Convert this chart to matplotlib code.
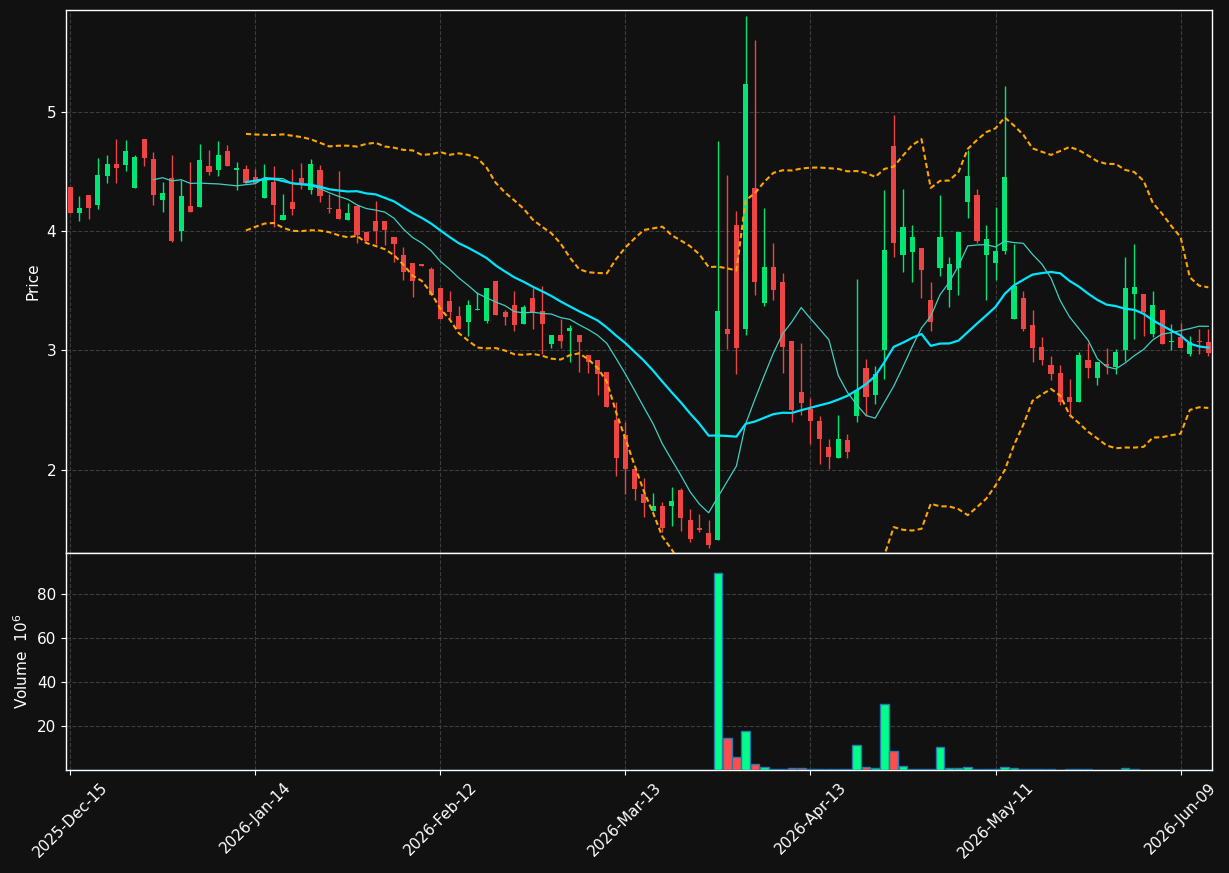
import numpy as np
import pandas as pd
import matplotlib
matplotlib.use("Agg")
import matplotlib.pyplot as plt

# daily OHLC (one entry per trading day)
opens = [4.37, 4.15, 4.30, 4.22, 4.46, 4.56, 4.55, 4.36, 4.77, 4.60,
         4.26, 4.44, 4.00, 4.21, 4.20, 4.54, 4.51, 4.67, 4.51, 4.52,
         4.45, 4.28, 4.41, 4.09, 4.24, 4.44, 4.34, 4.51, 4.19, 4.18,
         4.09, 4.21, 3.99, 4.08, 4.08, 3.95, 3.80, 3.73, 3.72, 3.68,
         3.52, 3.41, 3.29, 3.24, 3.34, 3.25, 3.58, 3.32, 3.38, 3.22,
         3.44, 3.33, 3.05, 3.13, 3.16, 3.13, 2.96, 2.92, 2.82, 2.42,
         2.29, 2.01, 1.80, 1.66, 1.70, 1.70, 1.83, 1.58, 1.51, 1.47,
         1.41, 3.18, 4.05, 3.18, 4.36, 3.40, 3.70, 3.57, 3.08, 2.65,
         2.51, 2.41, 2.19, 2.10, 2.25, 2.45, 2.85, 2.63, 3.00, 4.71,
         3.80, 3.82, 3.86, 3.42, 3.69, 3.51, 3.69, 4.24, 4.30, 3.80,
         3.73, 3.83, 3.26, 3.44, 3.21, 3.03, 2.88, 2.81, 2.61, 2.57,
         2.92, 2.77, 2.89, 2.86, 3.00, 3.47, 3.47, 3.14, 3.34, 3.07,
         3.11, 2.97, 3.08, 3.07]
highs = [4.37, 4.29, 4.30, 4.61, 4.64, 4.77, 4.76, 4.64, 4.77, 4.66,
         4.41, 4.64, 4.43, 4.58, 4.73, 4.68, 4.75, 4.72, 4.58, 4.55,
         4.52, 4.56, 4.54, 4.31, 4.52, 4.57, 4.60, 4.55, 4.31, 4.50,
         4.23, 4.21, 3.99, 4.25, 4.08, 3.95, 3.87, 3.73, 3.72, 3.70,
         3.52, 3.50, 3.37, 3.42, 3.49, 3.52, 3.58, 3.34, 3.50, 3.38,
         3.52, 3.54, 3.13, 3.26, 3.21, 3.13, 2.96, 2.92, 2.82, 2.57,
         2.40, 2.01, 1.93, 1.81, 1.73, 1.86, 1.85, 1.67, 1.63, 1.58,
         4.75, 4.47, 4.17, 5.80, 5.60, 4.19, 3.90, 3.65, 3.08, 3.06,
         2.60, 2.45, 2.26, 2.46, 2.30, 3.60, 2.93, 2.87, 4.34, 4.97,
         4.35, 4.05, 3.86, 3.57, 4.30, 3.78, 3.99, 4.68, 4.35, 4.05,
         4.20, 5.21, 3.89, 3.50, 3.34, 3.11, 2.95, 2.88, 2.76, 2.99,
         3.06, 2.90, 3.02, 3.01, 3.78, 3.89, 3.47, 3.50, 3.34, 3.22,
         3.23, 3.12, 3.18, 3.18]
lows = [4.15, 4.08, 4.10, 4.18, 4.40, 4.40, 4.50, 4.36, 4.54, 4.22,
        4.16, 3.91, 3.92, 4.16, 4.20, 4.47, 4.46, 4.54, 4.34, 4.40,
        4.40, 4.28, 4.03, 4.09, 4.13, 4.35, 4.31, 4.24, 4.15, 4.10,
        4.09, 3.90, 3.92, 3.89, 3.88, 3.74, 3.59, 3.45, 3.71, 3.46,
        3.26, 3.27, 3.18, 3.12, 3.34, 3.23, 3.30, 3.21, 3.16, 3.22,
        3.18, 2.97, 3.02, 3.02, 2.90, 2.82, 2.81, 2.63, 2.53, 1.95,
        1.80, 1.75, 1.61, 1.66, 1.48, 1.53, 1.49, 1.40, 1.48, 1.35,
        1.41, 3.01, 2.80, 3.13, 3.46, 3.37, 3.42, 2.81, 2.40, 2.46,
        2.22, 2.05, 2.01, 2.10, 2.10, 2.40, 2.45, 2.55, 2.76, 3.78,
        3.66, 3.57, 3.44, 3.16, 3.62, 3.36, 3.46, 4.11, 3.90, 3.42,
        3.59, 3.81, 3.26, 3.16, 2.90, 2.88, 2.75, 2.54, 2.44, 2.57,
        2.77, 2.71, 2.80, 2.80, 2.91, 3.10, 3.12, 3.11, 3.05, 3.00,
        3.02, 2.95, 2.97, 2.95]
closes = [4.15, 4.19, 4.19, 4.47, 4.56, 4.53, 4.67, 4.62, 4.61, 4.30,
          4.32, 3.92, 4.29, 4.16, 4.59, 4.49, 4.64, 4.54, 4.53, 4.40,
          4.40, 4.44, 4.22, 4.13, 4.18, 4.40, 4.56, 4.29, 4.18, 4.10,
          4.15, 3.97, 3.92, 4.00, 4.01, 3.89, 3.66, 3.58, 3.71, 3.46,
          3.26, 3.32, 3.18, 3.38, 3.34, 3.52, 3.30, 3.28, 3.21, 3.36,
          3.31, 3.22, 3.13, 3.08, 3.19, 3.07, 2.90, 2.80, 2.53, 2.10,
          2.01, 1.84, 1.72, 1.70, 1.51, 1.74, 1.60, 1.42, 1.50, 1.37,
          3.33, 3.14, 3.02, 5.23, 3.57, 3.70, 3.51, 3.03, 2.50, 2.56,
          2.41, 2.26, 2.11, 2.26, 2.15, 2.67, 2.61, 2.80, 3.84, 3.90,
          4.03, 3.95, 3.67, 3.24, 3.95, 3.72, 3.99, 4.46, 3.92, 3.93,
          3.83, 4.45, 3.54, 3.18, 3.02, 2.92, 2.80, 2.57, 2.57, 2.96,
          2.85, 2.90, 2.87, 2.99, 3.52, 3.53, 3.32, 3.38, 3.05, 3.08,
          3.02, 3.07, 3.07, 2.98]
# volume in millions of shares
volumes = [0.0] * 70 + [
    89.5, 14.5, 5.9, 17.7, 2.7, 1.4, 0.4, 0.4, 0.9, 0.9,
    0.3, 0.3, 0.3, 0.3, 0.3, 11.4, 1.4, 0.9, 30.0, 8.6,
    1.8, 0.3, 0.3, 0.3, 10.5, 0.9, 0.9, 1.4, 0.3, 0.3,
    0.3, 1.4, 0.9, 0.3, 0.3, 0.3, 0.3, 0.05, 0.3, 0.3,
    0.3, 0.1, 0.1, 0.1, 0.9, 0.3, 0.1, 0.05, 0.05, 0.05,
    0.05, 0.05, 0.05, 0.05]
tick_labels = ["2025-Dec-15", "2026-Jan-14", "2026-Feb-12", "2026-Mar-13",
               "2026-Apr-13", "2026-May-11", "2026-Jun-09"]

BG = "#111111"
UP = "#00e676"
DOWN = "#ef4444"
VOL_UP = "#00ff88"
VOL_DOWN = "#ff4d4d"

df = pd.DataFrame({"Open": opens, "High": highs, "Low": lows,
                   "Close": closes, "Volume": volumes})
x = np.arange(len(df))

# moving averages and bollinger bands from the closes
sma10 = df["Close"].rolling(10).mean()
sma20 = df["Close"].rolling(20).mean()
std20 = df["Close"].rolling(20).std(ddof=0)
upper = sma20 + 2 * std20
lower = sma20 - 2 * std20

fig = plt.figure(figsize=(12.29, 8.73), dpi=100, facecolor=BG)
ax = fig.add_axes([0.0537, 0.3666, 0.9325, 0.622])
axv = fig.add_axes([0.0537, 0.118, 0.9325, 0.2486], sharex=ax)

for a in (ax, axv):
    a.set_facecolor(BG)
    for sp in a.spines.values():
        sp.set_color("white")
        sp.set_linewidth(1.0)
    a.tick_params(colors="white", labelsize=11)
    a.grid(True, color="#3c3c3c", linestyle="--", linewidth=0.8)
    a.set_axisbelow(True)

up = df["Close"] >= df["Open"]
colors = np.where(up, UP, DOWN)
body_low = np.minimum(df["Open"], df["Close"])
body_h = np.maximum((df["Close"] - df["Open"]).abs(), 0.008)

ax.vlines(x, df["Low"], df["High"], colors=colors, linewidth=1.0, zorder=2)
ax.bar(x, body_h, bottom=body_low, width=0.55, color=colors, linewidth=0, zorder=3)

ax.plot(x, sma10, color="#3fcfc0", linewidth=0.9, zorder=4)
ax.plot(x, sma20, color="#00e5ff", linewidth=1.6, zorder=4)
ax.plot(x, upper, color="#ffa500", linewidth=1.5, linestyle=(0, (2.5, 1.5)), zorder=4)
ax.plot(x, lower, color="#ffa500", linewidth=1.5, linestyle=(0, (2.5, 1.5)), zorder=4)

ax.set_ylim(1.305, 5.85)
ax.set_yticks([2, 3, 4, 5])
ax.set_ylabel("Price", color="white", fontsize=11)
ax.tick_params(axis="x", labelbottom=False, length=0)

vcol = np.where(up, VOL_UP, VOL_DOWN)
axv.bar(x, df["Volume"], width=0.95, color=vcol, edgecolor="#2a78b0", linewidth=1.0, zorder=3)
axv.set_ylim(0, 98.5)
axv.set_yticks([20, 40, 60, 80])
axv.set_ylabel("Volume  $10^{6}$", color="white", fontsize=11)

axv.set_xlim(-0.45, 123.4)
axv.set_xticks(np.arange(0, len(df), 20)[:len(tick_labels)])
axv.set_xticklabels(tick_labels, rotation=45, ha="center")

fig.savefig("out.png", dpi=100, facecolor=BG)
